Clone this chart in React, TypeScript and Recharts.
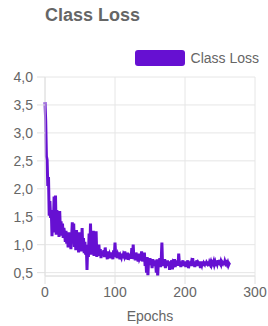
import { LineChart, Line, XAxis, YAxis, CartesianGrid, Legend } from 'recharts';

const lossValues = [
  3.55, 3.22, 2.58, 2.52, 2.05, 2.21, 1.52, 1.78, 1.48, 1.62,
  1.15, 1.55, 1.35, 1.86, 1.22, 1.88, 1.18, 1.62, 1.28, 1.45,
  1.14, 1.6, 1.25, 1.42, 1.16, 1.38, 1.12, 1.3, 1.2, 1.05,
  1.25, 1.02, 1.18, 0.95, 1.22, 1.0, 1.15, 0.92, 1.12, 1.4,
  1.05, 1.38, 0.96, 1.18, 0.9, 1.26, 0.98, 1.1, 0.86, 1.22,
  0.95, 1.08, 0.88, 1.3, 0.92, 1.12, 0.85, 1.05, 0.82, 1.0,
  0.55, 0.98, 0.78, 1.2, 0.85, 1.38, 0.82, 1.1, 0.9, 1.25,
  0.8, 1.02, 0.86, 1.24, 0.78, 0.95, 0.84, 1.0, 0.8, 0.92,
  0.76, 0.88, 0.84, 0.8, 0.9, 0.78, 0.95, 0.8, 0.85, 0.74,
  0.88, 0.78, 0.82, 0.76, 0.86, 0.79, 0.83, 0.74, 0.9, 0.78,
  1.04, 0.8, 0.84, 0.76, 0.82, 0.78, 0.86, 0.74, 0.8, 0.77,
  0.84, 0.76, 0.82, 0.79, 0.88, 0.74, 0.81, 0.76, 0.86, 0.73,
  0.84, 0.78, 0.8, 0.75, 0.94, 0.76, 1.0, 0.74, 0.82, 0.72,
  0.86, 0.76, 0.8, 0.7, 0.84, 0.75, 0.78, 0.72, 0.88, 0.7,
  0.8, 0.74, 0.86, 0.62, 0.76, 0.5, 0.78, 0.45, 0.72, 0.66,
  0.76, 0.64, 0.7, 0.58, 0.74, 0.66, 0.72, 0.62, 0.68, 0.5,
  0.74, 0.44, 0.7, 0.64, 0.76, 0.6, 0.72, 1.04, 0.62, 0.7,
  0.66, 0.74, 0.58, 0.7, 0.64, 0.72, 0.62, 0.68, 0.55, 0.7,
  0.64, 0.72, 0.56, 0.68, 0.66, 0.74, 0.6, 0.7, 0.64, 0.72,
  0.62, 0.84, 0.66, 0.7, 0.6, 0.68, 0.64, 0.72, 0.62, 0.66,
  0.7, 0.6, 0.68, 0.64, 0.72, 0.58, 0.66, 0.7, 0.62, 0.68,
  0.64, 0.76, 0.62, 0.68, 0.6, 0.7, 0.65, 0.72, 0.62, 0.68,
  0.66, 0.7, 0.58, 0.68, 0.64, 0.7, 0.62, 0.67, 0.65, 0.7,
  0.63, 0.68, 0.66, 0.7, 0.62, 0.68, 0.65, 0.69, 0.64, 0.68,
  0.66, 0.7, 0.64, 0.68, 0.62, 0.7, 0.66, 0.72, 0.64, 0.68,
  0.66, 0.7, 0.65, 0.69, 0.67, 0.71, 0.64, 0.7, 0.66, 0.68,
  0.65, 0.68, 0.63, 0.66, 0.64,
];
const xTicks = [0, 100, 200, 300];
const yTicks = [0.5, 1, 1.5, 2, 2.5, 3, 3.5, 4];

const data = lossValues.map((loss, epoch) => ({ epoch, loss }));

const COLOR = '#6610d2';
const FONT = 'Arial, "Liberation Sans", Helvetica, sans-serif';

function LegendBox() {
  return (
    <div style={{ display: 'flex', justifyContent: 'flex-end', alignItems: 'center', height: 16, fontFamily: FONT, fontSize: 14, color: '#666' }}>
      <span style={{ width: 50, height: 16, background: COLOR, borderRadius: 3, marginRight: 6 }} />
      <span>Class Loss</span>
    </div>
  );
}

export default function App() {
  return (
    <div style={{ position: 'absolute', left: 0, top: 0, width: 268, height: 326, background: '#fff' }}>
      <div style={{ position: 'absolute', left: 45, top: 5, fontFamily: FONT, fontSize: 18, fontWeight: 'bold', color: '#666' }}>
        Class Loss
      </div>
      <LineChart width={268} height={326} data={data} margin={{ top: 61, right: 13, bottom: 0, left: 0 }}>
        <CartesianGrid stroke="#e6e6e6" />
        <Legend
          verticalAlign="top"
          align="right"
          content={() => <LegendBox />}
          wrapperStyle={{ top: 50, right: 9, width: 'auto' }}
        />
        <XAxis
          dataKey="epoch"
          type="number"
          domain={[0, 300]}
          ticks={xTicks}
          height={50}
          stroke="#e0e0e0"
          tickSize={8}
          tickMargin={3}
          tick={{ fill: '#666', fontSize: 14, fontFamily: FONT }}
          label={{ value: 'Epochs', position: 'insideBottom', offset: 5, fill: '#666', fontSize: 14, fontFamily: FONT }}
        />
        <YAxis
          type="number"
          domain={[0.5, 4]}
          ticks={yTicks}
          width={45}
          stroke="#e0e0e0"
          tickSize={8}
          tickMargin={4}
          tickFormatter={(v: number) => v.toFixed(1).replace('.', ',')}
          tick={{ fill: '#666', fontSize: 14, fontFamily: FONT }}
        />
        <Line type="linear" dataKey="loss" stroke={COLOR} strokeWidth={3} dot={false} isAnimationActive={false} />
      </LineChart>
    </div>
  );
}
